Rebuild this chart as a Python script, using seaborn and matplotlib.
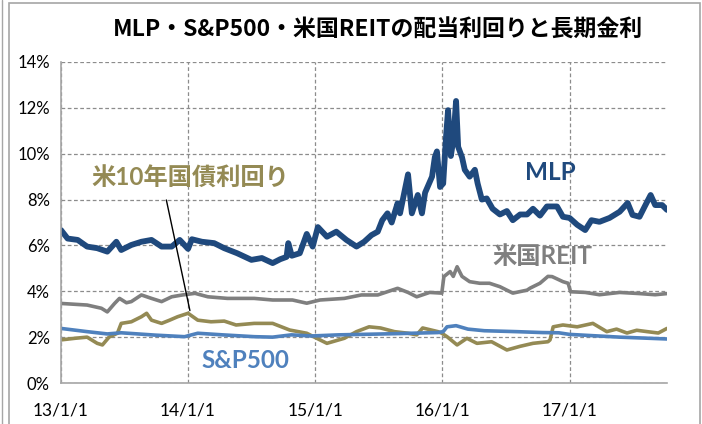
import numpy as np
import pandas as pd
import matplotlib
matplotlib.use("Agg")
import matplotlib.pyplot as plt
import matplotlib.dates as mdates
import seaborn as sns
from matplotlib.patches import Rectangle
from matplotlib.lines import Line2D

# ---------------- data ----------------
mlp_dates = ["2013-01-01", "2013-01-20", "2013-02-18", "2013-03-17", "2013-04-15", "2013-05-14",
             "2013-06-09", "2013-06-23", "2013-07-22", "2013-08-20", "2013-09-18", "2013-10-17",
             "2013-11-15", "2013-12-08", "2014-01-01", "2014-01-12", "2014-02-10", "2014-03-17",
             "2014-04-15", "2014-05-22", "2014-07-02", "2014-08-01", "2014-09-01", "2014-09-23",
             "2014-10-11", "2014-10-16", "2014-10-26", "2014-11-18", "2014-12-08", "2014-12-25",
             "2015-01-09", "2015-02-04", "2015-03-03", "2015-04-01", "2015-04-30", "2015-05-22",
             "2015-06-12", "2015-06-30", "2015-07-13", "2015-07-28", "2015-08-09", "2015-08-26",
             "2015-09-02", "2015-09-25", "2015-10-06", "2015-10-23", "2015-11-04", "2015-11-13",
             "2015-12-03", "2015-12-11", "2015-12-17", "2015-12-26", "2016-01-04", "2016-01-12",
             "2016-01-18", "2016-01-26", "2016-02-02", "2016-02-10", "2016-02-16", "2016-02-27",
             "2016-03-06", "2016-03-20", "2016-04-04", "2016-04-12", "2016-04-24", "2016-05-08",
             "2016-05-25", "2016-06-15", "2016-07-05", "2016-07-22", "2016-08-12", "2016-09-01",
             "2016-09-18", "2016-10-08", "2016-10-28", "2016-11-26", "2016-12-13", "2017-01-01",
             "2017-01-23", "2017-02-15", "2017-03-05", "2017-03-28", "2017-04-26", "2017-05-25",
             "2017-06-17", "2017-07-01", "2017-07-21", "2017-08-05", "2017-08-22", "2017-09-04",
             "2017-09-24", "2017-10-08"]
mlp_values = [6.67, 6.30, 6.24, 5.95, 5.88, 5.73,
              6.16, 5.80, 6.02, 6.16, 6.24, 5.95,
              5.95, 6.24, 5.85, 6.27, 6.16, 6.10,
              5.88, 5.66, 5.37, 5.45, 5.23, 5.40,
              5.50, 6.10, 5.55, 5.66, 6.50, 5.95,
              6.80, 6.38, 6.60, 6.24, 5.95, 6.16,
              6.45, 6.60, 7.10, 7.40, 7.00, 7.84,
              7.40, 9.10, 7.40, 8.20, 7.40, 8.30,
              9.00, 9.85, 10.10, 8.55, 8.70, 10.70,
              11.90, 9.90, 10.60, 12.30, 10.30, 9.85,
              9.30, 9.00, 9.30, 8.70, 8.00, 8.05,
              7.60, 7.35, 7.50, 7.10, 7.35, 7.35,
              7.60, 7.30, 7.70, 7.70, 7.25, 7.20,
              6.90, 6.67, 7.10, 7.03, 7.20, 7.47,
              7.85, 7.33, 7.25, 7.70, 8.20, 7.76,
              7.76, 7.55]

reit_dates = ["2013-01-01", "2013-03-17", "2013-04-27", "2013-05-14", "2013-06-04", "2013-06-18",
              "2013-07-08", "2013-07-22", "2013-08-20", "2013-09-18", "2013-10-17", "2013-11-15",
              "2013-12-16", "2014-01-21", "2014-02-27", "2014-04-24", "2014-07-10", "2014-09-01",
              "2014-10-28", "2014-12-08", "2015-01-15", "2015-03-26", "2015-05-14", "2015-06-30",
              "2015-08-26", "2015-09-25", "2015-10-20", "2015-11-26", "2015-12-31", "2016-01-06",
              "2016-01-24", "2016-02-02", "2016-02-13", "2016-02-27", "2016-03-20", "2016-04-18",
              "2016-05-16", "2016-06-15", "2016-07-22", "2016-09-01", "2016-09-10", "2016-10-08",
              "2016-10-31", "2016-11-12", "2016-12-13", "2016-12-28", "2017-01-04", "2017-02-15",
              "2017-03-28", "2017-05-25", "2017-07-21", "2017-09-04", "2017-10-08"]
reit_values = [3.47, 3.40, 3.26, 3.10, 3.47, 3.69,
               3.50, 3.55, 3.84, 3.69, 3.55, 3.76,
               3.84, 3.91, 3.76, 3.69, 3.69, 3.62,
               3.62, 3.48, 3.62, 3.69, 3.84, 3.84,
               4.13, 3.95, 3.76, 3.95, 3.92, 4.64,
               4.86, 4.65, 5.07, 4.65, 4.42, 4.35,
               4.35, 4.20, 3.92, 4.05, 4.14, 4.35,
               4.65, 4.64, 4.42, 4.35, 3.98, 3.95,
               3.85, 3.95, 3.90, 3.85, 3.90]

ust_dates = ["2013-01-01", "2013-02-10", "2013-03-17", "2013-04-15", "2013-04-30", "2013-05-19",
             "2013-06-12", "2013-06-23", "2013-07-22", "2013-08-20", "2013-09-04", "2013-09-18",
             "2013-10-17", "2013-11-09", "2013-12-02", "2014-01-01", "2014-01-29", "2014-03-08",
             "2014-04-15", "2014-05-19", "2014-07-10", "2014-09-01", "2014-10-20", "2014-12-08",
             "2015-01-15", "2015-02-04", "2015-03-26", "2015-04-30", "2015-06-05", "2015-07-08",
             "2015-08-17", "2015-09-25", "2015-10-20", "2015-11-06", "2015-12-20", "2015-12-31",
             "2016-01-15", "2016-02-13", "2016-03-12", "2016-04-10", "2016-05-22", "2016-07-05",
             "2016-08-12", "2016-09-18", "2016-10-31", "2016-11-06", "2016-11-15", "2016-12-13",
             "2017-01-23", "2017-03-09", "2017-04-18", "2017-05-16", "2017-06-15", "2017-07-13",
             "2017-08-12", "2017-09-13", "2017-10-08"]
ust_values = [1.88, 1.95, 2.00, 1.73, 1.66, 2.00,
              2.17, 2.60, 2.67, 2.89, 3.04, 2.74,
              2.60, 2.74, 2.89, 3.04, 2.74, 2.67,
              2.70, 2.53, 2.60, 2.60, 2.31, 2.17,
              1.88, 1.73, 1.95, 2.24, 2.45, 2.40,
              2.24, 2.17, 2.10, 2.40, 2.24, 2.17,
              2.02, 1.66, 1.95, 1.73, 1.80, 1.44,
              1.60, 1.73, 1.80, 1.88, 2.45, 2.53,
              2.45, 2.60, 2.24, 2.35, 2.18, 2.30,
              2.24, 2.18, 2.38]

sp_dates = ["2013-01-01", "2013-03-17", "2013-05-14", "2013-06-23", "2013-09-27", "2013-12-22",
            "2014-01-29", "2014-04-10", "2014-07-10", "2014-09-01", "2014-10-25", "2014-12-20",
            "2015-03-10", "2015-08-17", "2015-12-20", "2016-01-04", "2016-01-15", "2016-02-10",
            "2016-03-15", "2016-05-01", "2016-08-01", "2016-10-15", "2016-12-01", "2017-01-01",
            "2017-05-25", "2017-10-08"]
sp_values = [2.38, 2.24, 2.14, 2.19, 2.09, 2.02,
             2.17, 2.10, 2.02, 2.00, 2.10, 2.05,
             2.10, 2.15, 2.20, 2.24, 2.45, 2.50,
             2.35, 2.28, 2.24, 2.20, 2.19, 2.12,
             2.00, 1.92]

y_ticks = [0, 2, 4, 6, 8, 10, 12, 14]
x_tick_dates = ["2013-01-01", "2014-01-01", "2015-01-01", "2016-01-01", "2017-01-01"]
x_tick_labels = ["13/1/1", "14/1/1", "15/1/1", "16/1/1", "17/1/1"]

title = "MLP・S&P500・米国REITの配当利回りと長期金利"

# ---------------- plotting ----------------
sns.set_theme(style="white")
plt.rcParams['font.family'] = ['Lato', 'Noto Sans CJK JP', 'DejaVu Sans']

W, H = 702, 424
fig = plt.figure(figsize=(W / 100, H / 100), dpi=100)
ax = fig.add_axes([61 / W, 41 / H, 606 / W, 321 / H])

C_MLP = "#1F497D"
C_REIT = "#7F7F7F"
C_SP = "#4F81BD"
C_UST = "#948A54"

series = [
    (ust_dates, ust_values, C_UST, 2.6),
    (sp_dates, sp_values, C_SP, 2.6),
    (reit_dates, reit_values, C_REIT, 2.6),
    (mlp_dates, mlp_values, C_MLP, 4.2),
]
for d, v, c, lw in series:
    df = pd.DataFrame({"date": pd.to_datetime(d), "value": v})
    sns.lineplot(data=df, x="date", y="value", color=c, linewidth=lw, ax=ax,
                 solid_joinstyle="round", solid_capstyle="round")

ax.set_xlim(pd.Timestamp(mlp_dates[0]), pd.Timestamp(mlp_dates[-1]))
ax.set_ylim(0, 14)
ax.set_yticks(y_ticks)
ax.set_yticklabels([f"{t}%" for t in y_ticks])
ax.set_xticks(pd.to_datetime(x_tick_dates))
ax.set_xticklabels(x_tick_labels)
ax.set_xlabel("")
ax.set_ylabel("")

ax.grid(True, color="#8C8C8C", linestyle=(0, (3, 2)), linewidth=0.9)
ax.set_axisbelow(True)
for s in ["top", "right"]:
    ax.spines[s].set_visible(False)
for s in ["left", "bottom"]:
    ax.spines[s].set_color("#A6A6A6")
    ax.spines[s].set_linewidth(1.2)
ax.tick_params(axis="y", which="major", direction="out", length=4, width=1,
               color="#A6A6A6", labelsize=12, labelcolor="#000000", pad=4)
ax.tick_params(axis="x", which="major", direction="out", length=6, width=1,
               color="#A6A6A6", labelsize=12.5, labelcolor="#000000", pad=8)

def dn(s):
    return mdates.date2num(pd.Timestamp(s))

ax.text(dn("2016-11-07"), 9.2, "MLP", color=C_MLP, fontsize=17.5, fontweight="bold",
        ha="center", va="center")
ax.text(dn("2016-10-16"), 5.5, "米国REIT", color=C_REIT, fontsize=17.5, fontweight="bold",
        ha="center", va="center")
ax.text(dn("2014-06-15"), 1.0, "S&P500", color=C_SP, fontsize=17.5, fontweight="bold",
        ha="center", va="center")
ax.text(dn("2014-01-07"), 8.94, "米10年国債利回り", color=C_UST, fontsize=17.5, fontweight="bold",
        ha="center", va="center")
ax.annotate("", xy=(dn("2014-01-08"), 3.04), xytext=(dn("2013-10-29"), 8.1),
            arrowprops=dict(arrowstyle="-", color="black", lw=1))

fig.text(378 / W, 1 - 30 / H, title, fontsize=16.5, fontweight="bold",
         family=["Noto Sans CJK JP", "DejaVu Sans"], ha="center", va="center", color="black")

fig.add_artist(Rectangle((9 / W, -0.05), (700 - 9) / W, 1.05 - 3 / H, transform=fig.transFigure,
                         fill=False, edgecolor="#A6A6A6", linewidth=1.2))
fig.add_artist(Line2D([2 / W, 2 / W], [0, 1], transform=fig.transFigure,
                      color="#A6A6A6", linewidth=1.0))

fig.savefig("out.png", dpi=100, facecolor="white")
